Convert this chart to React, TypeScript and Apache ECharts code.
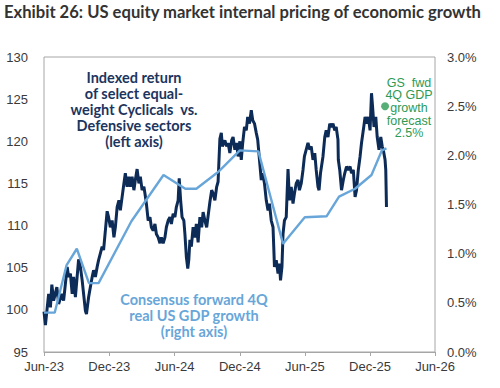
import React, { useEffect, useRef } from "react";
import * as echarts from "echarts";

// ---- Data ----
const titleText = "Exhibit 26: US equity market internal pricing of economic growth";

const xTickDates = ["2023-06-01", "2023-12-01", "2024-06-01", "2024-12-01", "2025-06-01", "2025-12-01", "2026-06-01"];
const monthNames = ["Jan", "Feb", "Mar", "Apr", "May", "Jun", "Jul", "Aug", "Sep", "Oct", "Nov", "Dec"];

const leftAxis = { min: 95, max: 130, interval: 5 };
const rightAxis = { min: 0, max: 3, interval: 0.5 };

// Indexed return of select equal-weight Cyclicals vs. Defensive sectors (left axis)
const indexDates = [
  "2023-06-01", "2023-06-05", "2023-06-14", "2023-06-19", "2023-06-23", "2023-06-28", "2023-07-07", "2023-07-12",
  "2023-07-21", "2023-07-26", "2023-08-05", "2023-08-09", "2023-08-14", "2023-08-19", "2023-08-23", "2023-08-28",
  "2023-09-06", "2023-09-11", "2023-09-16", "2023-09-20", "2023-09-25", "2023-09-28", "2023-10-04", "2023-10-09",
  "2023-10-14", "2023-10-18", "2023-10-23", "2023-10-28", "2023-11-01", "2023-11-06", "2023-11-11", "2023-11-15",
  "2023-11-20", "2023-11-25", "2023-11-29", "2023-12-04", "2023-12-09", "2023-12-14", "2023-12-18", "2023-12-23",
  "2023-12-28", "2024-01-01", "2024-01-06", "2024-01-11", "2024-01-15", "2024-01-20", "2024-01-25", "2024-01-29",
  "2024-02-03", "2024-02-08", "2024-02-12", "2024-02-17", "2024-02-22", "2024-02-26", "2024-03-02", "2024-03-07",
  "2024-03-10", "2024-03-14", "2024-03-19", "2024-03-24", "2024-03-28", "2024-04-02", "2024-04-07", "2024-04-11",
  "2024-04-16", "2024-04-21", "2024-04-25", "2024-04-30", "2024-05-05", "2024-05-09", "2024-05-14", "2024-05-19",
  "2024-05-23", "2024-05-28", "2024-06-02", "2024-06-06", "2024-06-11", "2024-06-14", "2024-06-18", "2024-06-22",
  "2024-06-27", "2024-06-30", "2024-07-04", "2024-07-08", "2024-07-11", "2024-07-14", "2024-07-18", "2024-07-23",
  "2024-07-28", "2024-08-01", "2024-08-06", "2024-08-11", "2024-08-16", "2024-08-20", "2024-08-25", "2024-08-30",
  "2024-09-08", "2024-09-13", "2024-09-17", "2024-09-22", "2024-09-27", "2024-10-01", "2024-10-06", "2024-10-10",
  "2024-10-13", "2024-10-20", "2024-10-25", "2024-10-29", "2024-11-03", "2024-11-08", "2024-11-12", "2024-11-17",
  "2024-11-22", "2024-11-26", "2024-12-01", "2024-12-05", "2024-12-09", "2024-12-14", "2024-12-19", "2024-12-23",
  "2024-12-28", "2025-01-02", "2025-01-06", "2025-01-11", "2025-01-16", "2025-01-20", "2025-01-25", "2025-01-30",
  "2025-02-03", "2025-02-08", "2025-02-13", "2025-02-18", "2025-02-22", "2025-02-27", "2025-03-04", "2025-03-06",
  "2025-03-08", "2025-03-13", "2025-03-18", "2025-03-22", "2025-03-25", "2025-03-29", "2025-04-01", "2025-04-05",
  "2025-04-10", "2025-04-15", "2025-04-19", "2025-04-24", "2025-04-29", "2025-05-03", "2025-05-08", "2025-05-13",
  "2025-05-17", "2025-05-22", "2025-05-27", "2025-05-31", "2025-06-05", "2025-06-10", "2025-06-15", "2025-06-19",
  "2025-06-24", "2025-06-29", "2025-07-03", "2025-07-08", "2025-07-11", "2025-07-15", "2025-07-22", "2025-07-27",
  "2025-07-31", "2025-08-05", "2025-08-10", "2025-08-14", "2025-08-19", "2025-08-24", "2025-08-28", "2025-09-02",
  "2025-09-03", "2025-09-07", "2025-09-12", "2025-09-17", "2025-09-21", "2025-09-26", "2025-10-01", "2025-10-06",
  "2025-10-10", "2025-10-15", "2025-10-20", "2025-10-24", "2025-10-29", "2025-11-03", "2025-11-07", "2025-11-12",
  "2025-11-17", "2025-11-22", "2025-11-26", "2025-12-01", "2025-12-05", "2025-12-08", "2025-12-12", "2025-12-17",
  "2025-12-21", "2025-12-26", "2025-12-31", "2026-01-04", "2026-01-07", "2026-01-12", "2026-01-14", "2026-01-16",
];
const indexValues = [
  99.8, 98.2, 101.9, 100.3, 103.0, 101.1, 102.7, 100.7,
  101.9, 101.1, 105.1, 103.9, 104.3, 101.9, 103.9, 101.5,
  106.0, 105.1, 103.5, 101.9, 99.9, 99.5, 101.5, 102.7,
  103.9, 104.7, 103.9, 105.1, 105.9, 106.7, 107.5, 107.1,
  109.4, 111.7, 111.0, 109.8, 110.6, 108.6, 109.8, 112.2,
  113.0, 111.8, 113.4, 115.0, 116.2, 114.6, 115.8, 114.6,
  115.8, 114.2, 115.4, 116.7, 115.0, 115.8, 114.2, 114.6,
  113.8, 112.6, 110.6, 111.0, 109.8, 109.4, 110.2, 109.0,
  108.6, 107.9, 108.6, 107.9, 108.6, 109.8, 110.6, 111.0,
  110.2, 111.4, 111.0, 112.2, 113.0, 115.6, 113.0, 111.0,
  110.6, 109.0, 106.3, 104.9, 106.0, 108.3, 107.5, 109.8,
  108.6, 110.2, 108.0, 111.0, 109.8, 111.6, 110.6, 109.8,
  112.8, 114.2, 113.8, 113.0, 114.6, 115.2, 120.3, 121.0,
  119.4, 120.1, 119.4, 119.8, 118.6, 120.1, 120.5, 119.0,
  119.8, 118.2, 120.0, 117.8, 119.8, 121.7, 121.3, 122.9,
  122.1, 123.7, 122.5, 122.1, 121.0, 120.2, 117.8, 115.4,
  116.2, 115.0, 113.0, 111.8, 112.6, 110.6, 109.8, 107.5,
  105.1, 105.9, 104.3, 105.5, 103.5, 105.1, 109.0, 110.6,
  111.0, 116.7, 113.0, 114.6, 112.6, 113.8, 115.0, 115.4,
  114.2, 115.0, 116.6, 118.2, 119.0, 119.8, 119.0, 119.4,
  117.8, 118.6, 116.6, 114.6, 114.2, 116.2, 118.2, 120.5,
  121.3, 120.5, 122.1, 121.7, 122.1, 121.3, 121.7, 120.2,
  117.8, 116.6, 114.2, 115.4, 116.2, 117.0, 116.6, 117.0,
  116.2, 116.6, 113.4, 114.2, 116.6, 118.2, 119.8, 121.3,
  122.9, 122.1, 122.9, 121.3, 125.7, 124.1, 121.7, 122.9,
  120.5, 119.0, 120.5, 119.4, 119.0, 117.8, 116.6, 112.2,
];

// Consensus forward 4Q real US GDP growth, % (right axis)
const gdpDates = [
  "2023-06-01", "2023-07-01", "2023-08-03", "2023-09-01", "2023-10-05", "2023-11-01", "2024-02-01", "2024-05-01",
  "2024-07-01", "2024-08-01", "2024-10-01", "2024-12-01", "2025-01-22", "2025-04-01", "2025-06-01", "2025-08-01",
  "2025-09-05", "2025-10-20", "2025-12-05", "2026-01-03", "2026-01-16",
];
const gdpValues = [
  0.40, 0.40, 0.88, 1.05, 0.70, 0.70, 1.33, 1.80,
  1.66, 1.66, 1.83, 2.05, 2.04, 1.10, 1.37, 1.38,
  1.58, 1.66, 1.80, 2.05, 2.07,
];

// GS forward 4Q GDP growth forecast, % (right axis)
const gsForecastDate = "2026-01-12";
const gsForecastValue = 2.5;

// ---- helpers ----
const toTs = (s: string) => {
  const [y, m, d] = s.split("-").map(Number);
  return Date.UTC(y, m - 1, d);
};
const fmtMonth = (v: number) => {
  const d = new Date(v);
  return monthNames[d.getUTCMonth()] + "-" + String(d.getUTCFullYear()).slice(2);
};

const NAVY = "#0d2b57";
const LIGHT = "#68a6d9";
const GREEN = "#2e9a55";
const AXIS_TEXT = "#3a3a3a";
const BORDER = "#a6a6a6";

export default function App() {
  const ref = useRef<HTMLDivElement>(null);

  useEffect(() => {
    if (!ref.current) return;
    const chart = echarts.init(ref.current, undefined, { renderer: "svg" });
    const tickTs = xTickDates.map(toTs);

    const option: any = {
      animation: false,
      backgroundColor: "#ffffff",
      grid: {
        left: 44,
        right: 65,
        top: 57,
        bottom: 36,
        show: true,
        borderColor: BORDER,
        borderWidth: 1,
        containLabel: false,
      },
      xAxis: {
        type: "value",
        min: tickTs[0],
        max: tickTs[tickTs.length - 1],
        axisLine: { show: true, lineStyle: { color: BORDER, width: 1 } },
        axisTick: { show: true, length: 4, customValues: tickTs, lineStyle: { color: BORDER } },
        splitLine: { show: false },
        axisLabel: {
          customValues: tickTs,
          formatter: (v: number) => fmtMonth(v),
          color: AXIS_TEXT,
          fontSize: 13,
          fontFamily: "Liberation Sans, Arial, sans-serif",
          margin: 8,
          showMinLabel: true,
          showMaxLabel: true,
        },
      },
      yAxis: [
        {
          type: "value",
          min: leftAxis.min,
          max: leftAxis.max,
          interval: leftAxis.interval,
          axisLine: { show: false },
          axisTick: { show: false },
          splitLine: { show: false },
          axisLabel: {
            color: AXIS_TEXT,
            fontSize: 13,
            fontFamily: "Liberation Sans, Arial, sans-serif",
            margin: 16,
          },
        },
        {
          type: "value",
          position: "right",
          min: rightAxis.min,
          max: rightAxis.max,
          interval: rightAxis.interval,
          axisLine: { show: false },
          axisTick: { show: false },
          splitLine: { show: false },
          axisLabel: {
            color: AXIS_TEXT,
            fontSize: 13,
            fontFamily: "Liberation Sans, Arial, sans-serif",
            margin: 12,
            formatter: (v: number) => v.toFixed(1) + "%",
          },
        },
      ],
      series: [
        {
          name: "Indexed return",
          type: "line",
          yAxisIndex: 0,
          showSymbol: false,
          symbol: "none",
          data: indexDates.map((d, i) => [toTs(d), indexValues[i]]),
          lineStyle: { color: NAVY, width: 3 },
          z: 2,
        },
        {
          name: "Consensus GDP",
          type: "line",
          yAxisIndex: 1,
          showSymbol: false,
          symbol: "none",
          data: gdpDates.map((d, i) => [toTs(d), gdpValues[i]]),
          lineStyle: { color: LIGHT, width: 2.4 },
          z: 3,
        },
        {
          name: "GS forecast",
          type: "scatter",
          yAxisIndex: 1,
          symbol: "circle",
          symbolSize: 8,
          data: [[toTs(gsForecastDate), gsForecastValue]],
          itemStyle: { color: GREEN },
          z: 4,
        },
      ],
      graphic: [
        {
          type: "text",
          left: 4,
          top: 3,
          style: {
            text: titleText,
            fill: "#333333",
            fontSize: 16.6,
            fontWeight: "bold",
            fontFamily: "Lato, sans-serif",
          },
        },
        {
          type: "text",
          x: 134,
          y: 70,
          style: {
            text: "Indexed return\nof select equal-\nweight Cyclicals  vs.\nDefensive sectors\n(left axis)",
            fill: "#1c355e",
            fontSize: 14.5,
            fontWeight: "bold",
            fontFamily: "Lato, sans-serif",
            lineHeight: 15.8,
            align: "center",
            verticalAlign: "top",
          },
        },
        {
          type: "text",
          x: 194,
          y: 291.5,
          style: {
            text: "Consensus forward 4Q\nreal US GDP growth\n(right axis)",
            fill: LIGHT,
            fontSize: 14.5,
            fontWeight: "bold",
            fontFamily: "Lato, sans-serif",
            lineHeight: 15.8,
            align: "center",
            verticalAlign: "top",
          },
        },
        {
          type: "text",
          x: 409,
          y: 76.3,
          style: {
            text: "GS  fwd\n4Q GDP\ngrowth\nforecast\n2.5%",
            fill: GREEN,
            fontSize: 12.5,
            fontFamily: "Liberation Sans, Arial, sans-serif",
            lineHeight: 12.7,
            align: "center",
            verticalAlign: "top",
          },
        },
      ],
    };

    chart.setOption(option);
    return () => chart.dispose();
  }, []);

  return (
    <div
      ref={ref}
      style={{ position: "fixed", left: 0, top: 0, width: 500, height: 388, background: "#fff" }}
    />
  );
}
